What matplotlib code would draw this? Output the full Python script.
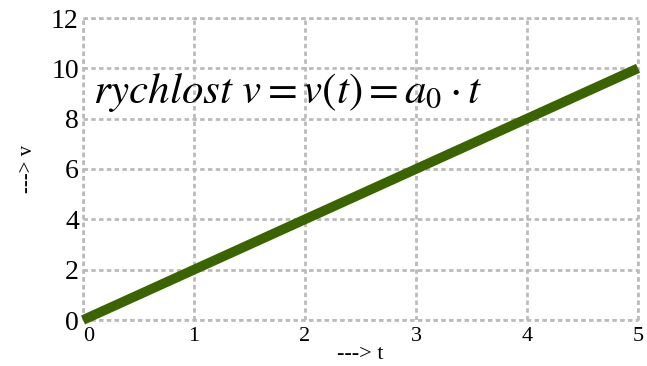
import matplotlib
matplotlib.use("Agg")
import matplotlib.pyplot as plt
from matplotlib.transforms import ScaledTranslation

# time samples and velocity v = a0 * t with a0 = 2
t = [0, 1, 2, 3, 4, 5]
v = [0, 2, 4, 6, 8, 10]
x_ticks = [0, 1, 2, 3, 4, 5]
y_ticks = [0, 2, 4, 6, 8, 10, 12]

plt.rcParams["mathtext.fontset"] = "stix"
plt.rcParams["font.family"] = "Liberation Serif"

fig = plt.figure(figsize=(6.47, 3.66), dpi=100)
ax = fig.add_axes([83 / 647, 1 - 320 / 366, (638 - 83) / 647, (320 - 18) / 366])

ax.plot(t, v, color="#3a6400", linewidth=7.0, solid_capstyle="butt", clip_on=False, zorder=3)

ax.set_xlim(0, 5)
ax.set_ylim(0, 12)
ax.set_xticks(x_ticks)
ax.set_yticks(y_ticks)

grid_style = dict(color="#bbbbbb", linestyle=(0, (1.6, 1.2)), linewidth=2.0)
ax.grid(True, **grid_style)
for s in ax.spines.values():
    s.set_visible(False)
for x in (0, 5):
    ax.axvline(x, clip_on=False, **grid_style)
for y in (0, 12):
    ax.axhline(y, clip_on=False, **grid_style)

ax.tick_params(axis="both", length=0)
ax.tick_params(axis="y", labelsize=20, pad=3)
ax.tick_params(axis="x", labelsize=16, pad=5)
shift_down = ScaledTranslation(0, -3 / 100, fig.dpi_scale_trans)
for lab in ax.get_yticklabels():
    lab.set_verticalalignment("center")
    lab.set_transform(lab.get_transform() + shift_down)
xlabs = ax.get_xticklabels()
xlabs[0].set_horizontalalignment("left")

ax.set_xlabel("---> t", fontsize=16, labelpad=-1)
ax.set_ylabel("---> v", fontsize=15, labelpad=10)

ax.text(0.018, 0.72, r"$rychlost\ v=v(t)=a_0\cdot t$", transform=ax.transAxes,
        fontsize=31, ha="left", va="baseline")

fig.savefig("out.png", dpi=100)
